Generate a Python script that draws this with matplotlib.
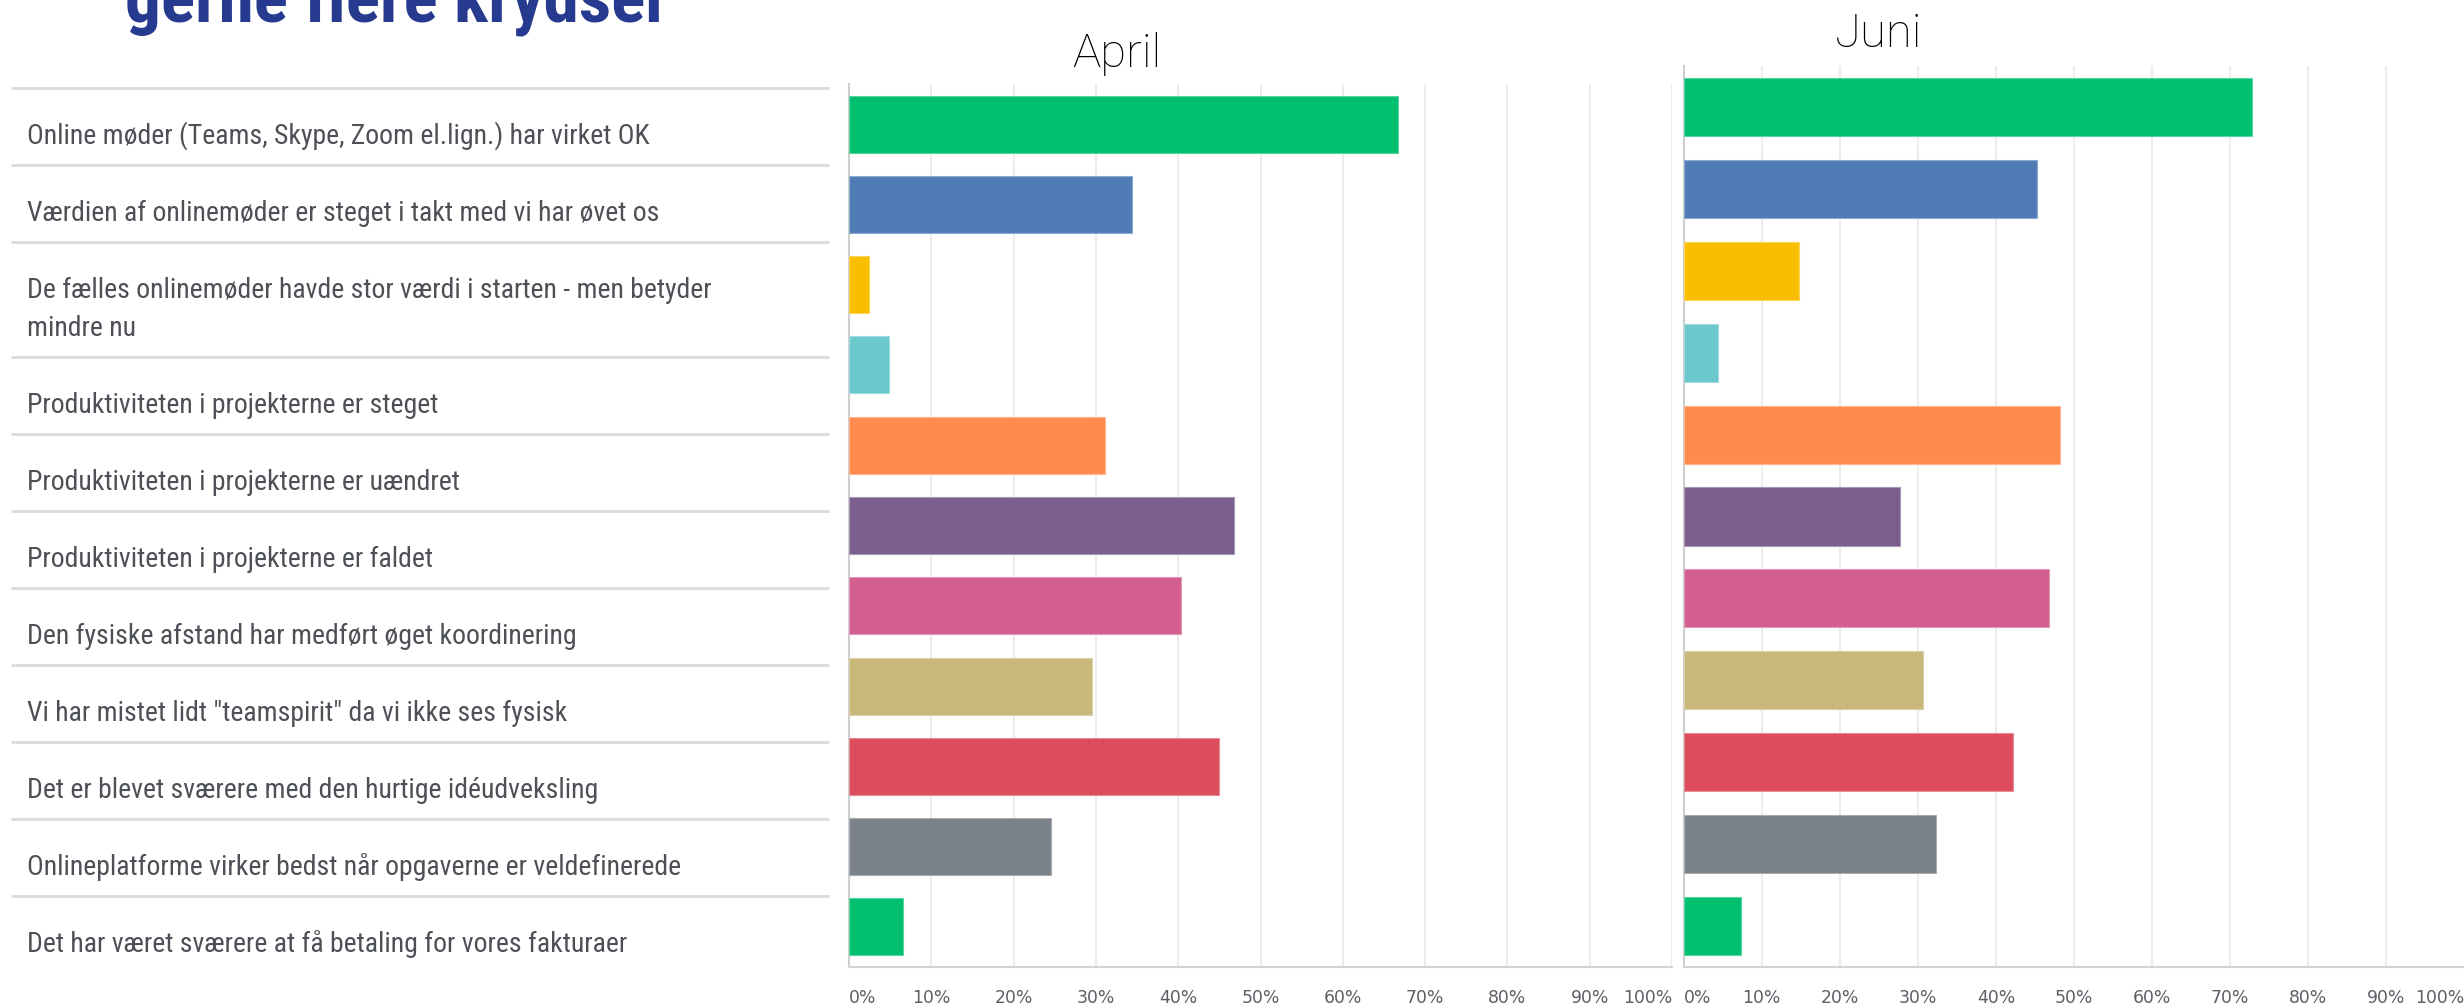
import matplotlib
matplotlib.use("Agg")
import matplotlib.pyplot as plt
from matplotlib import font_manager as fm
from matplotlib import colors as mcolors
import numpy as np

# ---------------- data ----------------
categories = [
    "Online møder (Teams, Skype, Zoom el.lign.) har virket OK",
    "Værdien af onlinemøder er steget i takt med vi har øvet os",
    "De fælles onlinemøder havde stor værdi i starten - men betyder\nmindre nu",
    "Produktiviteten i projekterne er steget",
    "Produktiviteten i projekterne er uændret",
    "Produktiviteten i projekterne er faldet",
    "Den fysiske afstand har medført øget koordinering",
    'Vi har mistet lidt "teamspirit" da vi ikke ses fysisk',
    "Det er blevet sværere med den hurtige idéudveksling",
    "Onlineplatforme virker bedst når opgaverne er veldefinerede",
    "Det har været sværere at få betaling for vores fakturaer",
]
april = [66.7, 34.4, 2.4, 4.9, 31.1, 46.8, 40.3, 29.5, 45.0, 24.6, 6.6]
juni = [72.8, 45.3, 14.8, 4.4, 48.2, 27.7, 46.8, 30.7, 42.2, 32.3, 7.4]
panel_titles = ["April", "Juni"]
tick_values = list(range(0, 101, 10))
tick_labels = [f"{v}%" for v in tick_values]
header_text = "gerne flere krydser"

bar_colors = ["#00bf6f", "#507cb6", "#f9be00", "#6bc8cd", "#ff8b4f", "#7b5e8e",
              "#d25f8f", "#c8b87a", "#dc4c5c", "#7a8189", "#00bf6f"]

# ---------------- fonts ----------------
names = {f.name for f in fm.fontManager.ttflist}


def pick(cands, default="DejaVu Sans"):
    for c in cands:
        if c in names:
            return c
    return default


def wnum(w):
    if isinstance(w, (int, float)):
        return int(w)
    return fm.weight_dict.get(w, 400)


def pick_condensed_regular():
    prio = ["Open Sans", "Noto Sans", "Roboto", "Liberation Sans", "DejaVu Sans"]
    best = None
    for f in fm.fontManager.ttflist:
        if f.style != "normal":
            continue
        w = wnum(f.weight)
        if not (350 <= w <= 450):
            continue
        narrow = ("Condensed" in f.name or "Narrow" in f.name
                  or str(f.stretch) in ("condensed", "semi-condensed", "extra-condensed")
                  or (isinstance(f.stretch, int) and f.stretch < 500))
        if not narrow:
            continue
        rank = len(prio)
        for i, p in enumerate(prio):
            if f.name.startswith(p):
                rank = i
                break
        key = (rank, abs(w - 400))
        if best is None or key < best[0]:
            best = (key, f.fname)
    if best is None:
        return fm.FontProperties(family=pick(["Open Sans", "Noto Sans"]))
    return fm.FontProperties(fname=best[1])


label_fp = pick_condensed_regular()
header_font = pick(["Roboto Condensed", "Liberation Sans Narrow", "Noto Sans Condensed",
                    "Roboto", "DejaVu Sans"])
title_font = pick(["Roboto", "Lato", "Open Sans"])
tick_font = "DejaVu Sans"

# ---------------- figure ----------------
W, H, DPI = 2464, 1004, 100
fig = plt.figure(figsize=(W / DPI, H / DPI), dpi=DPI, facecolor="white")
bg = fig.add_axes([0, 0, 1, 1], zorder=0)
bg.set_xlim(0, W)
bg.set_ylim(H, 0)
bg.axis("off")
renderer = fig.canvas.get_renderer()


def fx(px):
    return px / W


def fy(py):
    return 1 - py / H


def measure(text, **kw):
    t = fig.text(0, 0, text, **kw)
    w = t.get_window_extent(renderer=renderer).width
    t.remove()
    return w


# header (cut off at the top, as in the source)
hw = measure(header_text, fontsize=40, family=header_font, fontweight=900)
hs = 40 * 544 / hw
fig.text(fx(125), fy(21), header_text, ha="left", va="baseline", fontsize=hs,
         family=header_font, fontweight=900, color="#263a8f")

# label table
fp = label_fp.copy()
fp.set_size(18)
lw0 = measure(categories[0], fontproperties=fp)
label_size = min(20.0, 18 * 642 / lw0)
fp.set_size(label_size)
row_top = 89
base_h, extra_h = 77, 38
for cat in categories:
    lines = cat.split("\n")
    bg.plot([11, 829], [row_top, row_top], color="#dcdde0", lw=2.2,
            solid_capstyle="butt")
    for i, ln in enumerate(lines):
        bg.text(27, row_top + 55 + i * extra_h, ln, ha="left", va="baseline",
                fontproperties=fp, color="#4d5157")
    row_top += base_h + extra_h * (len(lines) - 1)


def lighten(c, a=0.35):
    r = np.array(mcolors.to_rgb(c))
    return tuple(r + (1 - r) * a)


def panel(left, right, top, bottom, values, title, tx, tbase):
    ax = fig.add_axes([fx(left), fy(bottom), (right - left) / W, (bottom - top) / H],
                      zorder=2)
    ax.set_facecolor("white")
    y = np.arange(len(values))
    ax.barh(y, values, height=0.71, color=bar_colors,
            edgecolor=[lighten(c) for c in bar_colors], linewidth=0.8, zorder=3)
    ax.set_xlim(0, 100)
    ax.set_ylim(len(values) - 0.5, -0.5)
    ax.set_yticks([])
    ax.set_xticks(tick_values)
    ax.set_xticklabels(tick_labels, fontsize=12.4, family=tick_font, color="#5c6066")
    lbls = ax.get_xticklabels()
    lbls[0].set_ha("left")
    lbls[-1].set_ha("right")
    ax.tick_params(axis="x", length=0, pad=15)
    ax.grid(axis="x", color="#ebebeb", lw=1.3, zorder=0)
    ax.set_axisbelow(True)
    for s in ("top", "right"):
        ax.spines[s].set_visible(False)
    ax.spines["left"].set_color("#cfcfcf")
    ax.spines["left"].set_linewidth(1.5)
    ax.spines["bottom"].set_color("#d3d3d3")
    ax.spines["bottom"].set_linewidth(1.5)
    fig.text(fx(tx), fy(tbase), title, ha="center", va="baseline", fontsize=34,
             family=title_font, fontweight="light", color="#000000")
    return ax


panel(849, 1672, 85, 968, april, panel_titles[0], 1117, 67)
panel(1683.5, 2464.5, 67, 968, juni, panel_titles[1], 1879, 47)

fig.savefig("out.png", dpi=DPI, facecolor="white")
